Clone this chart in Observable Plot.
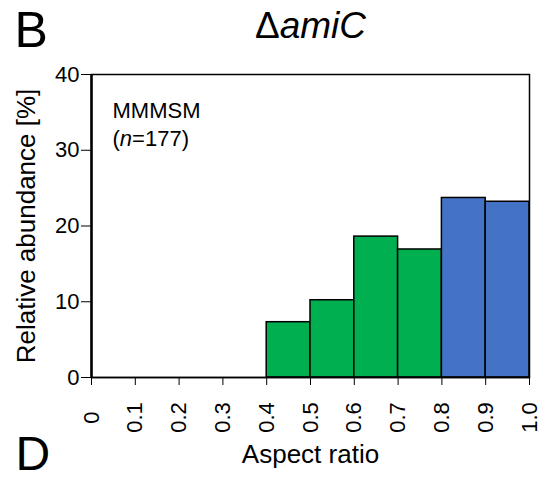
<!DOCTYPE html>
<html><head><meta charset="utf-8">
<script src="https://cdn.jsdelivr.net/npm/d3@7"></script>
<script src="https://cdn.jsdelivr.net/npm/@observablehq/plot@0.6"></script>
<style>body{margin:0;background:#fff;} svg{display:block}</style>
</head><body><div id="chart"></div>
<script>
// Data
const binStart = [0.4, 0.5, 0.6, 0.7, 0.8, 0.9];
const binEnd   = [0.5, 0.6, 0.7, 0.8, 0.9, 1.0];
const abundance = [7.3, 10.2, 18.6, 16.9, 23.7, 23.2];
const group = ["low", "low", "low", "low", "high", "high"];
const groupNames = ["low", "high"];
const groupColors = ["#00B050", "#4472C4"];
const xTicks = [0, 0.1, 0.2, 0.3, 0.4, 0.5, 0.6, 0.7, 0.8, 0.9, 1.0];
const xTickLabels = ["0", "0.1", "0.2", "0.3", "0.4", "0.5", "0.6", "0.7", "0.8", "0.9", "1.0"];
const yTicks = [0, 10, 20, 30, 40];
const titleText = "ΔamiC";
const strainText = "MMMSM";
const nText = "(n=177)";

const bins = binStart.map((s, i) => ({x1: s, x2: binEnd[i], v: abundance[i], g: group[i]}));
const FONT = "'Liberation Sans', Arial, Helvetica, sans-serif";

const chart = Plot.plot({
  width: 548, height: 479,
  marginLeft: 91, marginRight: 19, marginTop: 74, marginBottom: 102,
  style: {fontFamily: FONT, background: "white", overflow: "visible", color: "black"},
  x: {domain: [0, 1]},
  y: {domain: [0, 40]},
  color: {type: "ordinal", domain: groupNames, range: groupColors},
  marks: [
    Plot.rectY(bins, {x1: "x1", x2: "x2", y: "v", fill: "g", stroke: "black", strokeWidth: 1.5}),
    Plot.frame({stroke: "black", strokeWidth: 1.5}),
    Plot.ruleX([0], {stroke: "black", strokeWidth: 2.5}),
    Plot.ruleY([0], {stroke: "black", strokeWidth: 1.5}),
    Plot.axisY(yTicks, {tickSize: 10, tickPadding: 2, fontSize: 22, label: null, tickFormat: d => String(d)}),
    Plot.axisX(xTicks, {tickSize: 8, label: null, tickFormat: () => ""}),
    Plot.text(xTicks, {x: d => d, y: 0, dy: 40, text: (d, i) => xTickLabels[i], rotate: -90,
      textAnchor: "middle", lineAnchor: "middle", fontSize: 22, fill: "black"}),
    Plot.text(["Aspect ratio"], {frameAnchor: "bottom", dy: 85, lineAnchor: "bottom", fontSize: 26, fill: "black"}),
    Plot.text(["Relative abundance [%]"], {frameAnchor: "left", dx: -65, rotate: -90, textAnchor: "middle", lineAnchor: "middle", fontSize: 26, fill: "black"}),
    Plot.text([titleText], {frameAnchor: "top", dy: -37, lineAnchor: "bottom", fontSize: 37, fill: "black"}),
    Plot.text(["B"], {frameAnchor: "top-left", dx: -77, dy: -28, textAnchor: "start", lineAnchor: "bottom", fontSize: 50, fill: "black"}),
    Plot.text(["D"], {frameAnchor: "bottom-left", dx: -76, dy: 92, textAnchor: "start", lineAnchor: "bottom", fontSize: 48, fill: "black"}),
    Plot.text([strainText], {frameAnchor: "top-left", dx: 21, dy: 43, textAnchor: "start", lineAnchor: "bottom", fontSize: 22, fill: "black"}),
    Plot.text([nText], {frameAnchor: "top-left", dx: 21, dy: 71, textAnchor: "start", lineAnchor: "bottom", fontSize: 22, fill: "black"})
  ]
});
document.getElementById("chart").appendChild(chart);

// Mixed italic styling
function styleParts(full, parts) {
  d3.select(chart).selectAll("text").each(function() {
    if (this.textContent === full && this.childElementCount === 0) {
      const t = d3.select(this);
      t.text(null);
      parts.forEach(([s, it]) => t.append("tspan").text(s).attr("font-style", it ? "italic" : "normal"));
    }
  });
}
styleParts(titleText, [["Δ", false], ["amiC", true]]);
styleParts(nText, [["(", false], ["n", true], ["=177)", false]]);
</script>
</body></html>
